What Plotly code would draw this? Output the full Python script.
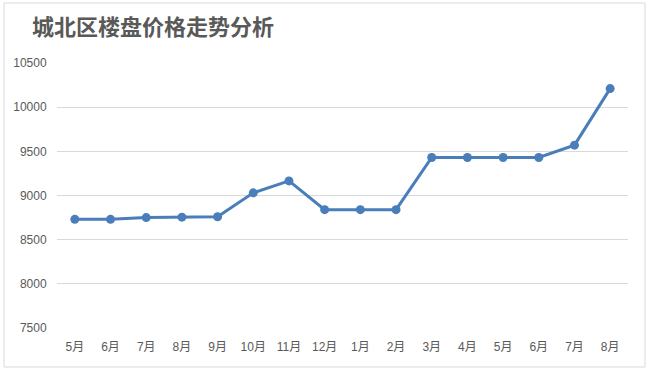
import plotly.graph_objects as go

categories = ["5月", "6月", "7月", "8月", "9月", "10月", "11月", "12月",
              "1月", "2月", "3月", "4月", "5月", "6月", "7月", "8月"]
prices = [8730, 8730, 8750, 8755, 8760, 9030, 9165, 8840,
          8840, 8840, 9430, 9430, 9430, 9430, 9570, 10210]
y_ticks = [7500, 8000, 8500, 9000, 9500, 10000, 10500]
y_tick_labels = ["7500", "8000", "8500", "9000", "9500", "10000", "10500"]
title_text = "城北区楼盘价格走势分析"

x_idx = list(range(len(categories)))

W, H = 650, 372
ml, mr, mt, mb = 57, 22, 63, 44
pw, ph = W - ml - mr, H - mt - mb

fig = go.Figure()
fig.add_trace(go.Scatter(
    x=x_idx, y=prices, mode="lines+markers",
    line=dict(color="#4a7ebb", width=3),
    marker=dict(color="#4a7ebb", size=9),
    hoverinfo="skip", showlegend=False,
))

font_fam = "Liberation Sans, Noto Sans CJK SC, sans-serif"

fig.update_layout(
    width=W, height=H,
    margin=dict(l=ml, r=mr, t=mt, b=mb),
    paper_bgcolor="white", plot_bgcolor="white",
    title=dict(text="<b>" + title_text + "</b>", x=32 / W, xanchor="left",
               y=1 - 27 / H, yanchor="middle",
               font=dict(family="Noto Sans CJK SC, sans-serif", size=22, color="#595959")),
    xaxis=dict(
        tickmode="array", tickvals=x_idx, ticktext=categories,
        range=[-0.5, len(categories) - 0.5],
        showgrid=False, zeroline=False, showline=False,
        ticks="outside", ticklen=8, tickcolor="rgba(0,0,0,0)",
        tickfont=dict(family=font_fam, size=12, color="#595959"),
        fixedrange=True,
    ),
    yaxis=dict(
        range=[7500, 10500], tickmode="array", tickvals=y_ticks,
        ticktext=y_tick_labels,
        showgrid=True, gridcolor="#d9d9d9", gridwidth=1,
        zeroline=False, showline=False,
        ticks="outside", ticklen=7, tickcolor="rgba(0,0,0,0)",
        tickfont=dict(family=font_fam, size=12, color="#595959"),
        fixedrange=True,
    ),
    shapes=[dict(
        type="rect", xref="paper", yref="paper",
        x0=(4 - ml) / pw, x1=(645 - ml) / pw,
        y0=(H - mb - 367) / ph, y1=(H - mb - 3) / ph,
        line=dict(color="#d9d9d9", width=1), fillcolor="rgba(0,0,0,0)",
        layer="below",
    )],
)

fig.write_html("out.html", config={"displayModeBar": False},
               post_script="document.body.style.margin='0';document.body.style.overflow='hidden';")
